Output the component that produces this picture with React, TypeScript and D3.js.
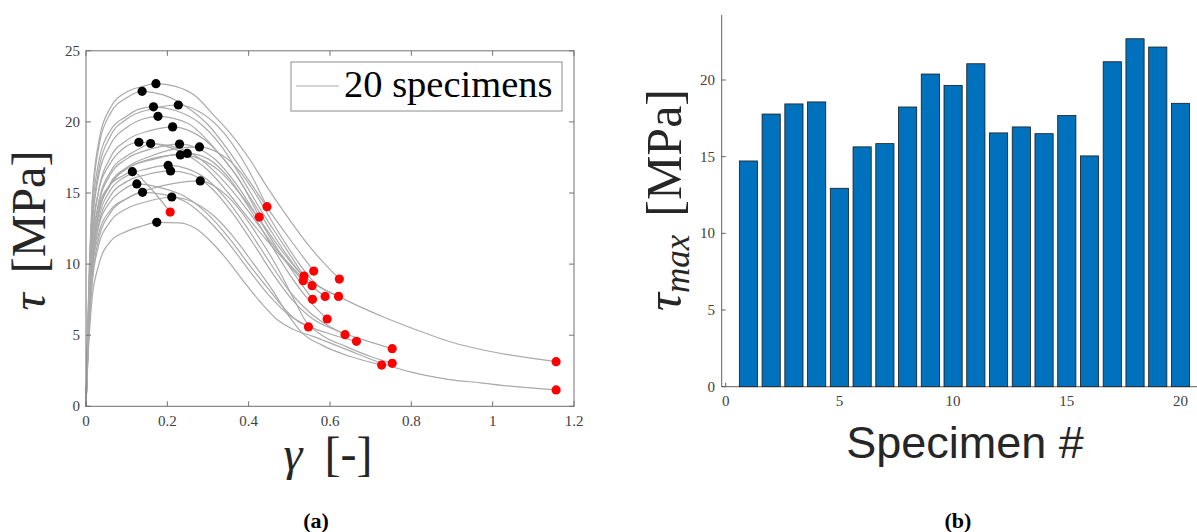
import React from "react";
import * as d3 from "d3";

// Specimen numbers and their maximum shear stress (MPa)
const specimens = [1, 2, 3, 4, 5, 6, 7, 8, 9, 10, 11, 12, 13, 14, 15, 16, 17, 18, 19, 20];
const tauMax = [14.72, 17.78, 18.44, 18.57, 12.94, 15.64, 15.85, 18.24, 20.39, 19.65,
  21.06, 16.55, 16.94, 16.5, 17.68, 15.05, 21.19, 22.69, 22.15, 18.48];
// Shear strain at which each specimen reaches its maximum
const peakStrain = [0.211, 0.249, 0.23, 0.13, 0.174, 0.125, 0.281, 0.279, 0.177, 0.213,
  0.166, 0.208, 0.202, 0.114, 0.232, 0.139, 0.227, 0.172, 0.138, 0.159];

// Loading branch of each curve, [gamma, tau], before the peak
const riseCurves: [number, number][][] = [
  [[0, 0], [0.003, 2.4], [0.008, 5.8], [0.015, 8.6], [0.03, 11.2], [0.06, 13.0], [0.1, 13.9], [0.15, 14.4]],
  [[0, 0], [0.003, 2.8], [0.008, 6.9], [0.015, 10.2], [0.03, 13.4], [0.06, 15.6], [0.1, 16.7], [0.17, 17.4]],
  [[0, 0], [0.003, 2.9], [0.008, 7.2], [0.015, 10.8], [0.03, 14.0], [0.06, 16.3], [0.1, 17.4], [0.16, 18.1]],
  [[0, 0], [0.003, 3.3], [0.008, 8.0], [0.015, 11.8], [0.03, 15.0], [0.06, 17.1], [0.09, 18.1]],
  [[0, 0], [0.003, 2.2], [0.008, 5.0], [0.015, 7.6], [0.03, 9.8], [0.06, 11.6], [0.1, 12.3], [0.14, 12.7]],
  [[0, 0], [0.003, 2.8], [0.008, 6.6], [0.015, 9.7], [0.03, 12.5], [0.06, 14.4], [0.09, 15.2]],
  [[0, 0], [0.003, 2.4], [0.008, 5.9], [0.015, 8.8], [0.03, 11.6], [0.06, 13.6], [0.1, 14.6], [0.16, 15.3], [0.22, 15.7]],
  [[0, 0], [0.003, 2.8], [0.008, 6.8], [0.015, 10.2], [0.03, 13.5], [0.06, 15.7], [0.1, 16.8], [0.16, 17.6], [0.22, 18.1]],
  [[0, 0], [0.003, 3.4], [0.008, 8.3], [0.015, 12.4], [0.03, 16.0], [0.06, 18.4], [0.1, 19.6], [0.14, 20.2]],
  [[0, 0], [0.003, 3.1], [0.008, 7.6], [0.015, 11.4], [0.03, 15.0], [0.06, 17.5], [0.1, 18.7], [0.16, 19.4]],
  [[0, 0], [0.003, 3.6], [0.008, 8.8], [0.015, 13.2], [0.03, 17.0], [0.06, 19.4], [0.1, 20.4], [0.13, 20.9]],
  [[0, 0], [0.003, 2.6], [0.008, 6.3], [0.015, 9.5], [0.03, 12.6], [0.06, 14.8], [0.1, 15.8], [0.15, 16.3]],
  [[0, 0], [0.003, 2.7], [0.008, 6.6], [0.015, 9.9], [0.03, 13.0], [0.06, 15.2], [0.1, 16.2], [0.15, 16.7]],
  [[0, 0], [0.003, 3.0], [0.008, 7.3], [0.015, 10.9], [0.03, 13.9], [0.06, 15.6], [0.09, 16.2]],
  [[0, 0], [0.003, 2.8], [0.008, 6.8], [0.015, 10.2], [0.03, 13.4], [0.06, 15.6], [0.1, 16.7], [0.16, 17.4]],
  [[0, 0], [0.003, 2.6], [0.008, 6.2], [0.015, 9.3], [0.03, 12.0], [0.06, 13.8], [0.1, 14.6]],
  [[0, 0], [0.003, 3.5], [0.008, 8.4], [0.015, 12.6], [0.03, 16.4], [0.06, 19.0], [0.1, 20.2], [0.16, 20.9]],
  [[0, 0], [0.003, 4.0], [0.008, 9.6], [0.015, 14.4], [0.03, 18.4], [0.06, 21.0], [0.1, 22.1], [0.14, 22.5]],
  [[0, 0], [0.003, 3.9], [0.008, 9.4], [0.015, 14.0], [0.03, 18.0], [0.06, 20.6], [0.1, 21.7]],
  [[0, 0], [0.003, 3.0], [0.008, 7.3], [0.015, 10.9], [0.03, 14.2], [0.06, 16.5], [0.1, 17.6], [0.13, 18.1]],
];

// Softening branch of each curve, [gamma, tau], after the peak; the last point is failure
const fallCurves: [number, number][][] = [
  [[0.26, 14.4], [0.31, 13.5], [0.36, 12.0], [0.41, 10.1], [0.46, 8.1], [0.5, 6.3], [0.53, 5.2], [0.58, 4.3], [0.65, 3.5], [0.727, 2.9]],
  [[0.3, 17.4], [0.35, 16.1], [0.4, 14.0], [0.45, 11.6], [0.5, 9.3], [0.55, 7.4], [0.593, 6.14]],
  [[0.27, 18.2], [0.32, 17.3], [0.37, 15.6], [0.42, 13.4], [0.47, 11.1], [0.52, 9.0], [0.557, 7.52]],
  [[0.18, 18.4], [0.24, 17.8], [0.3, 16.6], [0.35, 15.0], [0.4, 13.2], [0.45, 11.5], [0.5, 9.9], [0.534, 8.83]],
  [[0.23, 12.9], [0.27, 12.5], [0.31, 11.5], [0.35, 10.2], [0.39, 8.7], [0.43, 7.3], [0.47, 6.1], [0.51, 5.4], [0.56, 4.9],
    [0.64, 4.0], [0.72, 3.1], [0.8, 2.4], [0.89, 1.9], [0.97, 1.65], [1.05, 1.4], [1.156, 1.15]],
  [[0.18, 15.4], [0.24, 14.8], [0.3, 13.5], [0.35, 11.9], [0.4, 10.0], [0.45, 8.2], [0.49, 6.8], [0.52, 6.0], [0.547, 5.58]],
  [[0.32, 15.4], [0.37, 14.1], [0.42, 12.1], [0.47, 9.8], [0.51, 7.6], [0.54, 6.0], [0.58, 5.0], [0.64, 4.2], [0.7, 3.5], [0.753, 3.02]],
  [[0.32, 17.9], [0.37, 16.8], [0.42, 14.8], [0.47, 12.4], [0.52, 10.2], [0.563, 8.67], [0.62, 7.75], [0.73, 6.3],
    [0.813, 5.37], [0.895, 4.54], [1.018, 3.73], [1.156, 3.14]],
  [[0.25, 19.9], [0.32, 18.0], [0.38, 15.8], [0.426, 13.31]],
  [[0.26, 19.3], [0.31, 18.3], [0.36, 16.6], [0.41, 14.4], [0.46, 12.1], [0.51, 10.0], [0.55, 8.6], [0.588, 7.73]],
  [[0.22, 20.8], [0.28, 19.9], [0.33, 18.4], [0.38, 16.2], [0.43, 13.8], [0.48, 11.6], [0.536, 9.16]],
  [[0.26, 16.3], [0.31, 15.3], [0.36, 13.6], [0.41, 11.5], [0.46, 9.3], [0.51, 7.4], [0.56, 6.1], [0.62, 5.3], [0.69, 4.6], [0.753, 4.05]],
  [[0.25, 16.7], [0.3, 15.9], [0.35, 14.4], [0.4, 12.4], [0.45, 10.2], [0.5, 8.1], [0.55, 6.6], [0.6, 5.6], [0.637, 5.04]],
  [[0.15, 15.6], [0.207, 13.66]],
  [[0.28, 17.4], [0.33, 16.5], [0.38, 14.9], [0.43, 13.0], [0.48, 11.0], [0.53, 9.3], [0.58, 8.3], [0.621, 7.73]],
  [[0.19, 14.9], [0.25, 14.3], [0.3, 13.1], [0.35, 11.5], [0.4, 9.6], [0.45, 7.8], [0.5, 6.4], [0.55, 5.6], [0.61, 5.0], [0.665, 4.57]],
  [[0.28, 20.7], [0.34, 19.2], [0.4, 16.6], [0.445, 14.04]],
  [[0.22, 22.5], [0.27, 21.8], [0.313, 20.5], [0.355, 19.2], [0.397, 17.6], [0.446, 15.4], [0.496, 13.3], [0.545, 11.4], [0.594, 9.8], [0.623, 8.95]],
  [[0.19, 21.9], [0.25, 21.0], [0.3, 19.8], [0.35, 18.0], [0.4, 15.9], [0.45, 13.8], [0.5, 11.8], [0.56, 9.51]],
  [[0.21, 18.3], [0.27, 17.6], [0.32, 16.4], [0.37, 14.8], [0.42, 12.9], [0.47, 11.0], [0.52, 9.4], [0.556, 8.48]],
];

// Axis tick values
const strainTicks = [0, 0.2, 0.4, 0.6, 0.8, 1, 1.2];
const stressTicks = [0, 5, 10, 15, 20, 25];
const specimenTicks = [0, 5, 10, 15, 20];
const barStressTicks = [0, 5, 10, 15, 20];

const W = 1197;
const H = 532;
const SERIF = "'Liberation Serif', 'DejaVu Serif', serif";
const SANS = "'Liberation Sans', Arial, sans-serif";

export default function App() {
  // Panel (a): stress-strain curves
  const xA = d3.scaleLinear().domain([0, 1.2]).range([86, 574]);
  const yA = d3.scaleLinear().domain([0, 25]).range([406.3, 50.8]);
  const line = d3
    .line<[number, number]>()
    .x((d) => xA(d[0]))
    .y((d) => yA(d[1]))
    .curve(d3.curveMonotoneX);

  const curves = specimens.map((_, i) => [
    ...riseCurves[i],
    [peakStrain[i], tauMax[i]] as [number, number],
    ...fallCurves[i],
  ]);

  // Panel (b): bar chart of maximum stress
  const xB = d3.scaleLinear().domain([0, 20]).range([725.7, 1180.5]);
  const yB = d3.scaleLinear().domain([0, 20]).range([386.7, 80]);
  const barW = xB(0.8) - xB(0);
  const yTopB = 24.24;
  const axisColA = "#707070";
  const axisColB = "#606060";
  const tickLen = 5;

  const [x0, x1] = xA.range();
  const [y0, y1] = yA.range();

  return (
    <svg
      width={W}
      height={H}
      viewBox={`0 0 ${W} ${H}`}
      style={{ position: "absolute", left: 0, top: 0, background: "#fff" }}
    >
      {/* ---------- panel (a) ---------- */}
      <g>
        {curves.map((c, i) => (
          <path key={`c${i}`} d={line(c) || ""} fill="none" stroke="#aaaaaa" strokeWidth={1.2} />
        ))}
        {specimens.map((_, i) => (
          <circle key={`p${i}`} cx={xA(peakStrain[i])} cy={yA(tauMax[i])} r={4.6} fill="#000" />
        ))}
        {curves.map((c, i) => {
          const end = c[c.length - 1];
          return <circle key={`e${i}`} cx={xA(end[0])} cy={yA(end[1])} r={4.6} fill="#ff0000" />;
        })}

        {/* box and ticks */}
        <rect x={x0} y={y1} width={x1 - x0} height={y0 - y1} fill="none" stroke={axisColA} strokeWidth={1} />
        {strainTicks.map((t) => (
          <g key={`xt${t}`}>
            <line x1={xA(t)} x2={xA(t)} y1={y0} y2={y0 - tickLen} stroke={axisColA} />
            <line x1={xA(t)} x2={xA(t)} y1={y1} y2={y1 + tickLen} stroke={axisColA} />
            <text x={xA(t)} y={426} textAnchor="middle" fontFamily={SERIF} fontSize={15} fill="#404040">
              {String(t)}
            </text>
          </g>
        ))}
        {stressTicks.map((t) => (
          <g key={`yt${t}`}>
            <line x1={x0} x2={x0 + tickLen} y1={yA(t)} y2={yA(t)} stroke={axisColA} />
            <line x1={x1} x2={x1 - tickLen} y1={yA(t)} y2={yA(t)} stroke={axisColA} />
            <text x={80} y={yA(t) + 5} textAnchor="end" fontFamily={SERIF} fontSize={15} fill="#404040">
              {String(t)}
            </text>
          </g>
        ))}

        {/* legend */}
        <rect x={291} y={62} width={271} height={49} fill="#fff" stroke="#8c8c8c" strokeWidth={1} />
        <line x1={296} x2={339} y1={86} y2={86} stroke="#aaaaaa" strokeWidth={1.2} />
        <text x={344} y={97} fontFamily={SERIF} fontSize={38.5} fill="#000">
          20 specimens
        </text>

        {/* axis labels */}
        <text
          transform={`translate(45, ${(y0 + y1) / 2 + 2}) rotate(-90)`}
          textAnchor="middle"
          fontFamily={SERIF}
          fontSize={48}
          fill="#262626"
        >
          <tspan fontStyle="italic">τ</tspan>
          <tspan dx={20}>[MPa]</tspan>
        </text>
        <text x={328} y={470} textAnchor="middle" fontFamily={SERIF} fontSize={48} fill="#262626">
          <tspan fontStyle="italic">γ</tspan>
          <tspan dx={22}>[-]</tspan>
        </text>
        <text x={316} y={528} textAnchor="middle" fontFamily={SERIF} fontSize={22} fontWeight="bold" fill="#000">
          (a)
        </text>
      </g>

      {/* ---------- panel (b) ---------- */}
      <g>
        <line x1={721.7} x2={W} y1={yB(0)} y2={yB(0)} stroke={axisColB} strokeWidth={1} />
        <line x1={721.7} x2={721.7} y1={yB(yTopB)} y2={yB(0)} stroke={axisColB} strokeWidth={1} />
        {specimenTicks.map((t) => (
          <g key={`bx${t}`}>
            <line x1={xB(t)} x2={xB(t)} y1={yB(0)} y2={yB(0) - 4} stroke={axisColB} />
            <text x={xB(t)} y={406} textAnchor="middle" fontFamily={SERIF} fontSize={15} fill="#404040">
              {String(t)}
            </text>
          </g>
        ))}
        {barStressTicks.map((t) => (
          <g key={`by${t}`}>
            <line x1={721.7} x2={725.7} y1={yB(t)} y2={yB(t)} stroke={axisColB} />
            <text x={715} y={yB(t) + 5} textAnchor="end" fontFamily={SERIF} fontSize={15} fill="#404040">
              {String(t)}
            </text>
          </g>
        ))}
        {specimens.map((s, i) => (
          <rect
            key={`b${s}`}
            x={xB(s) - barW / 2}
            y={yB(tauMax[i])}
            width={barW}
            height={yB(0) - yB(tauMax[i])}
            fill="#0072bd"
            stroke="#1a1a1a"
            strokeWidth={0.8}
          />
        ))}

        <text
          transform={`translate(681, 200) rotate(-90)`}
          textAnchor="middle"
          fontFamily={SERIF}
          fontSize={50}
          fill="#262626"
        >
          <tspan fontStyle="italic">τ</tspan>
          <tspan fontStyle="italic" fontSize={35} dy={8}>max</tspan>
          <tspan dy={-8} dx={18}>[MPa]</tspan>
        </text>
        <text x={965} y={458} textAnchor="middle" fontFamily={SANS} fontSize={45} fill="#262626">
          Specimen #
        </text>
        <text x={958} y={528} textAnchor="middle" fontFamily={SERIF} fontSize={22} fontWeight="bold" fill="#000">
          (b)
        </text>
      </g>
    </svg>
  );
}
